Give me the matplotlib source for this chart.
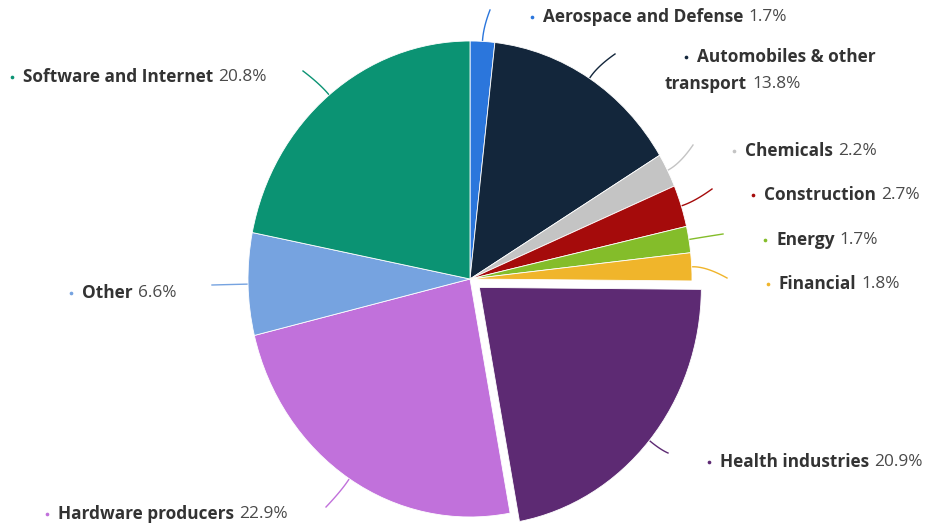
import numpy as np
import matplotlib
matplotlib.use("Agg")
import matplotlib.pyplot as plt

categories = ["Aerospace and Defense", "Automobiles & other transport", "Chemicals",
              "Construction", "Energy", "Financial", "Health industries",
              "Hardware producers", "Other", "Software and Internet"]
values = [1.7, 13.8, 2.2, 2.7, 1.7, 1.8, 20.9, 22.9, 6.6, 20.8]
colors = ["#2b76dc", "#13263b", "#c4c4c4", "#a50b0b", "#84bd2a", "#f0b52b",
          "#5d2a73", "#c171db", "#76a3e0", "#0b9373"]
explode = [0, 0, 0, 0, 0, 0, 0.055, 0, 0, 0]

W, H = 927, 524
CX, CY, RX, RY = 470, 279, 222, 238

def px2d(x, y):
    return (x - CX) / RX, (CY - y) / RY

def d2px(x, y):
    return CX + x * RX, CY - y * RY

fig = plt.figure(figsize=(W / 100, H / 100), dpi=100)
ax = fig.add_axes([0, 0, 1, 1])
wedges, _ = ax.pie(values, colors=colors, explode=explode, startangle=90,
                   counterclock=False, radius=1,
                   wedgeprops=dict(edgecolor="white", linewidth=0.6))
ax.set_aspect("auto")
x0, _ = px2d(0, 0)
x1, _ = px2d(W, 0)
_, y0 = px2d(0, H)
_, y1 = px2d(0, 0)
ax.set_xlim(x0, x1)
ax.set_ylim(y0, y1)
ax.axis("off")

# label layout (pixel positions): bullet x, text center y, connector end
label_layout = [
    (532, 17, (490, 10)),
    (686, 57, (615, 54)),
    (734, 151, (693, 145)),
    (753, 195, (712, 189)),
    (765, 240, (723, 234)),
    (768, 284, (727, 278)),
    (709, 462, (668, 453)),
    (47, 514, (326, 507)),
    (71, 293, (212, 285)),
    (12, 77, (303, 71)),
]

fig.canvas.draw()
renderer = fig.canvas.get_renderer()
FONT = ["Open Sans", "DejaVu Sans"]
FS = 12.4
TXT = "#333333"
PCT = "#4a4a4a"

def place_label(xp, yp, name, pct, color):
    ax.scatter(*px2d(xp, yp), s=7, color=color, zorder=5, linewidths=0)
    t = ax.text(*px2d(xp + 11, yp), name, fontsize=FS, fontweight="bold",
                family=FONT, color=TXT, va="center", ha="left")
    bb = t.get_window_extent(renderer)
    if pct is not None:
        ax.text(*px2d(bb.x1 + 5, yp), pct, fontsize=FS, family=FONT,
                color=PCT, va="center", ha="left")

for i, (w, name, v, col) in enumerate(zip(wedges, categories, values, colors)):
    xp, yp, end = label_layout[i]
    pct = f"{v:.1f}%"
    if name.startswith("Automobiles"):
        place_label(xp, yp, "Automobiles & other", None, col)
        t = ax.text(*px2d(665, 84), "transport", fontsize=FS, fontweight="bold",
                    family=FONT, color=TXT, va="center", ha="left")
        bb = t.get_window_extent(renderer)
        ax.text(*px2d(bb.x1 + 5, 84), pct, fontsize=FS, family=FONT,
                color=PCT, va="center", ha="left")
    else:
        place_label(xp, yp, name, pct, col)
    # connector
    mid = np.deg2rad((w.theta1 + w.theta2) / 2)
    cx, cy = w.center
    sx, sy = d2px(cx + np.cos(mid), cy + np.sin(mid))
    ctrlx, ctrly = sx + 14 * np.cos(mid), sy - 14 * np.sin(mid)
    ex, ey = end
    tt = np.linspace(0, 1, 40)
    bx = (1 - tt) ** 2 * sx + 2 * (1 - tt) * tt * ctrlx + tt ** 2 * ex
    by = (1 - tt) ** 2 * sy + 2 * (1 - tt) * tt * ctrly + tt ** 2 * ey
    dx, dy = px2d(bx, by)
    ax.plot(dx, dy, color=col, lw=1.0, zorder=0)

fig.savefig("out.png", dpi=100, facecolor="white")
